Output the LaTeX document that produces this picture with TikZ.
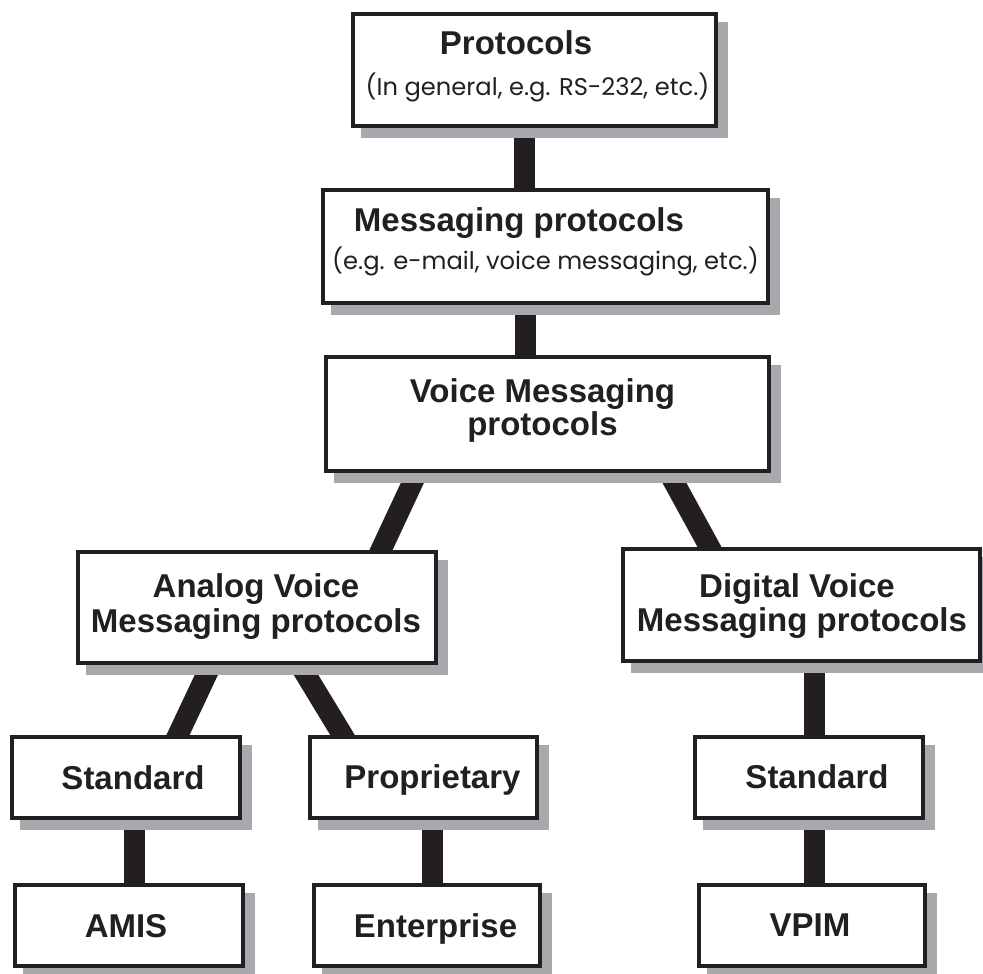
\documentclass[tikz,border=0pt]{standalone}
\usepackage{fontspec}
\setmainfont{Liberation Sans}
\newfontfamily\notefont{Poppins}
\usetikzlibrary{shadows,backgrounds}
\definecolor{ink}{RGB}{35,31,32}
\definecolor{shade}{RGB}{167,169,172}
\tikzset{
  box/.style={draw=ink, line width=4pt, fill=white, inner sep=0pt,
    drop shadow={shadow xshift=10pt, shadow yshift=-10pt, opacity=1,
      fill=shade, draw=shade, line width=4pt}},
  leafbox/.style={box, minimum width=228pt, minimum height=81pt},
  title/.style={anchor=base, inner sep=0pt, text=ink,
    font=\fontsize{33}{35}\selectfont\bfseries},
  note/.style={anchor=base, inner sep=0pt, text=ink,
    font=\notefont\fontsize{24.2}{26}\selectfont},
  link/.style={draw=ink, line width=21pt, shorten <=-14pt, shorten >=-14pt},
}
\begin{document}
\begin{tikzpicture}[x=1pt, y=1pt]
\useasboundingbox (0,0) rectangle (983,974);

% boxes
\node[box, minimum width=363pt, minimum height=112pt] (proto) at (534.5,904) {};
\node[box, minimum width=445pt, minimum height=113pt] (msg) at (545.5,727.5) {};
\node[box, minimum width=443pt, minimum height=114pt] (voice) at (547.5,560) {};
\node[box, minimum width=358pt, minimum height=111pt] (analog) at (257,366.5) {};
\node[box, minimum width=357pt, minimum height=112pt] (digital) at (801.5,369) {};
\node[leafbox] (stdA) at (126,196.5) {};
\node[leafbox, minimum width=227pt] (prop) at (423.5,196.5) {};
\node[leafbox] (stdD) at (809,196.5) {};
\node[leafbox] (amis) at (129,48.5) {};
\node[leafbox, minimum width=226pt] (ent) at (427,48) {};
\node[leafbox, minimum width=226pt] (vpim) at (812,48.5) {};

% labels
\node[title] (protoT) at ([shift={(-18.5,15)}]proto.center) {Protocols};
\node[note] (protoN) at ([shift={(3,-26)}]proto.center) {(In general, e.g. RS-232, etc.)};
\node[title] (msgT) at ([shift={(-26.5,14.5)}]msg.center) {Messaging protocols};
\node[note] (msgN) at ([shift={(0,-23.5)}]msg.center) {(e.g. e-mail, voice messaging, etc.)};
\node[title] (voiceA) at ([shift={(-5,11)}]voice.center) {Voice Messaging};
\node[title] (voiceB) at ([shift={(-5,-22)}]voice.center) {protocols};
\node[title] (analogA) at ([shift={(-1,9.5)}]analog.center) {Analog Voice};
\node[title] (analogB) at ([shift={(-1,-25.5)}]analog.center) {Messaging protocols};
\node[title] (digitalA) at ([shift={(-4.5,7)}]digital.center) {Digital Voice};
\node[title] (digitalB) at ([shift={(0.5,-27)}]digital.center) {Messaging protocols};
\node[title] (stdAT) at ([shift={(7,-12)}]stdA.center) {Standard};
\node[title] (propT) at ([shift={(9,-11)}]prop.center) {Proprietary};
\node[title] (stdDT) at ([shift={(8,-11)}]stdD.center) {Standard};
\node[title] (amisT) at ([shift={(-3,-12.5)}]amis.center) {AMIS};
\node[title] (entT) at ([shift={(8.5,-12)}]ent.center) {Enterprise};
\node[title] (vpimT) at ([shift={(-2,-11.5)}]vpim.center) {VPIM};

% connectors, behind shadows and boxes
\begin{scope}[on background layer]
  \draw[link] ([xshift=-10.5pt]proto.south) -- ([xshift=-21.5pt]msg.north);
  \draw[link] ([xshift=-20.5pt]msg.south) -- ([xshift=-22.5pt]voice.north);
  \draw[link] ([xshift=-130.5pt]voice.south) -- ([xshift=124pt]analog.north);
  \draw[link] ([xshift=121.5pt]voice.south) -- ([xshift=-92pt]digital.north);
  \draw[link] ([xshift=-46pt]analog.south) -- ([xshift=52pt]stdA.north);
  \draw[link] ([xshift=43pt]analog.south) -- ([xshift=-81pt]prop.north);
  \draw[link] ([xshift=13pt]digital.south) -- ([xshift=5.5pt]stdD.north);
  \draw[link] ([xshift=8.5pt]stdA.south) -- ([xshift=5.5pt]amis.north);
  \draw[link] ([xshift=9pt]prop.south) -- ([xshift=5.5pt]ent.north);
  \draw[link] ([xshift=5.5pt]stdD.south) -- ([xshift=2.5pt]vpim.north);
\end{scope}
\end{tikzpicture}
\end{document}
